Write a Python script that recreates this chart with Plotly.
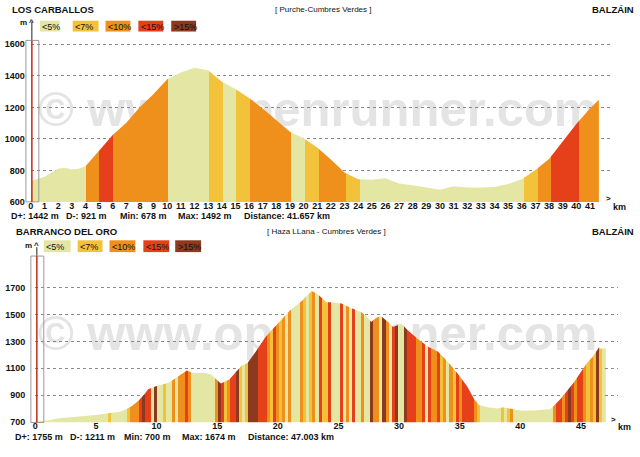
import plotly.graph_objects as go

# ---------------- data ----------------
GRADE_LABELS = ["<5%", "<7%", "<10%", "<15%", ">15%"]
GRADE_COLORS = ["#E4E6A3", "#F2C33A", "#F0901C", "#E6401B", "#8C3A1F"]

# Top profile: Los Carballos
top_title = "LOS CARBALLOS"
top_route = "[ Purche-Cumbres Verdes ]"
top_end = "BALZÁIN"
top_km = [0, 0.5, 1, 1.5, 2, 2.5, 3, 3.5, 4, 5, 6, 7, 8, 9, 10, 11, 12, 13, 14, 15,
          16, 17, 18, 19, 20, 21, 22, 23, 24, 25, 26, 27, 28, 29, 30, 31, 32, 33, 34,
          35, 36, 37, 38, 39, 40, 41, 41.657]
top_elev = [733, 745, 760, 785, 810, 817, 806, 810, 827, 925, 1025, 1102, 1202, 1285,
            1379, 1421, 1452, 1435, 1362, 1317, 1260, 1192, 1119, 1046, 1004, 946, 869,
            786, 744, 740, 750, 717, 706, 692, 677, 700, 692, 692, 694, 713, 744, 802,
            873, 983, 1094, 1192, 1248]
top_seg_km = list(range(0, 42)) + [41.657]
top_seg_grade = [0, 0, 0, 0, 2, 3, 2, 2, 2, 2, 0, 0, 0, 1, 0, 1, 2, 2, 2, 0, 1, 2, 2, 1,
                 0, 0, 0, 0, 0, 0, 0, 0, 0, 0, 0, 0, 1, 2, 3, 3, 2, 2]
top_xticks = list(range(0, 42))
top_yticks = [600, 800, 1000, 1200, 1400, 1600]
top_stats = ["D+: 1442 m", "D-: 921 m", "Min: 678 m", "Max: 1492 m", "Distance: 41.657 km"]

# Bottom profile: Barranco del Oro
bot_title = "BARRANCO DEL ORO"
bot_route = "[ Haza LLana - Cumbres Verdes ]"
bot_end = "BALZÁIN"
bot_km = [0, 1, 2, 3, 4, 5, 6, 7, 7.5, 8, 8.5, 9, 9.3, 10, 11, 12, 12.5, 13, 14, 14.5,
          15, 15.3, 16, 16.5, 17, 17.5, 18, 19, 20, 21, 22, 22.8, 23.3, 23.6, 24.0, 24.4,
          25.25, 26.1, 26.9, 27.4, 27.7, 28.1, 28.5, 29.1, 29.5, 30.2, 30.7, 31.5, 32.4,
          33.2, 34.0, 34.8, 35.6, 36.2, 36.6, 37.3, 38.1, 38.6, 39.2, 40.0, 41.1, 42.5,
          43.3, 44.4, 45.5, 46.0, 46.5, 46.6, 47.003]
bot_elev = [707, 712, 729, 737, 744, 754, 766, 778, 795, 822, 859, 907, 944, 968, 993,
            1054, 1083, 1066, 1066, 1054, 1017, 988, 1017, 1066, 1120, 1139, 1200, 1334,
            1432, 1529, 1602, 1674, 1651, 1627, 1590, 1590, 1581, 1546, 1517, 1480, 1444,
            1473, 1488, 1444, 1407, 1432, 1385, 1322, 1261, 1225, 1151, 1066, 968, 871,
            827, 810, 802, 810, 798, 786, 786, 798, 871, 993, 1139, 1188, 1256, 1245, 1249]
# grade class per quarter km, one string per km
bot_grade_rows = ["0000", "0000", "0000", "0000", "0000", "0000", "1000", "0012",
                  "2234", "3304", "0010", "0202", "2320", "0000", "0002", "4312",
                  "3341", "0144", "4333", "2132", "1202", "0002", "1012", "0311",
                  "3000", "3020", "3002", "0042", "2042", "0340", "0433", "3223",
                  "0322", "3120", "2132", "3333", "2100", "0000", "0101", "2000",
                  "0000", "0000", "0023", "3234", "3233", "2121", "4104"]
bot_total_km = 47.003
bot_xticks = [0, 5, 10, 15, 20, 25, 30, 35, 40, 45]
bot_yticks = [700, 900, 1100, 1300, 1500, 1700]
bot_stats = ["D+: 1755 m", "D-: 1211 m", "Min: 700 m", "Max: 1674 m", "Distance: 47.003 km"]

WATERMARK = "© www.openrunner.com"

# ---------------- helpers ----------------
W, H = 640, 457
FONT = "Liberation Sans, Arial, sans-serif"


def fx(x):
    return x / W


def fy(y):
    return 1 - y / H


def step_scale(edges, grades):
    span = edges[-1] - edges[0]
    scale = []
    for a, b, g in zip(edges[:-1], edges[1:], grades):
        c = GRADE_COLORS[g]
        scale.append([round((a - edges[0]) / span, 6), c])
        scale.append([round((b - edges[0]) / span, 6), c])
    scale[0][0] = 0.0
    scale[-1][0] = 1.0
    return scale


bot_seg_grade = [int(ch) for row in bot_grade_rows for ch in row]
bot_seg_km = [i * 0.25 for i in range(len(bot_seg_grade))] + [bot_total_km]

fig = go.Figure()

fig.add_trace(go.Scatter(
    x=top_km, y=top_elev, mode="lines", line=dict(width=0, color="rgba(0,0,0,0)"),
    fill="tozeroy",
    fillgradient=dict(type="horizontal", colorscale=step_scale(top_seg_km, top_seg_grade),
                      start=top_seg_km[0], stop=top_seg_km[-1]),
    xaxis="x", yaxis="y", hoverinfo="skip"))

fig.add_trace(go.Scatter(
    x=bot_km, y=bot_elev, mode="lines", line=dict(width=0, color="rgba(0,0,0,0)"),
    fill="tozeroy",
    fillgradient=dict(type="horizontal", colorscale=step_scale(bot_seg_km, bot_seg_grade),
                      start=bot_seg_km[0], stop=bot_seg_km[-1]),
    xaxis="x2", yaxis="y2", hoverinfo="skip"))

tickfont = dict(family=FONT, size=9, color="#111111", weight="bold")
grid = dict(showgrid=True, griddash="dot", gridcolor="#8a8a8a", gridwidth=1)

# top chart geometry: km0 at 28px, 13.70 px/km ; 600m at 203px, 0.16 px/m
top_x0, top_x1 = 28, 613
top_y0, top_y1 = 203, 40
top_xr = (top_x1 - top_x0) / 13.70
top_yr = 600 + (top_y0 - top_y1) / 0.16
# bottom chart geometry: km0 at 32.5px, 12.18 px/km ; 700m at 426.7px, 0.1367 px/m
bot_x0, bot_x1 = 32.5, 618
bot_y0, bot_y1 = 426.7, 287
bot_xr = (bot_x1 - bot_x0) / 12.18
bot_yr = 700 + (bot_y0 - bot_y1) / 0.1367

fig.update_layout(
    width=W, height=H, margin=dict(l=0, r=0, t=0, b=0),
    paper_bgcolor="white", plot_bgcolor="rgba(0,0,0,0)", showlegend=False,
    xaxis=dict(domain=[fx(top_x0), fx(top_x1)], range=[0, top_xr], anchor="y",
               tickmode="array", tickvals=top_xticks, ticks="", showgrid=False,
               zeroline=False, showline=False, tickfont=tickfont, ticklabelstandoff=-3),
    yaxis=dict(domain=[fy(top_y0), fy(top_y1)], range=[600, top_yr], anchor="x",
               tickmode="array", tickvals=top_yticks, ticks="", zeroline=False,
               showline=False, tickfont=tickfont, ticklabelstandoff=5, **grid),
    xaxis2=dict(domain=[fx(bot_x0), fx(bot_x1)], range=[0, bot_xr], anchor="y2",
                tickmode="array", tickvals=bot_xticks, ticks="", showgrid=False,
                zeroline=False, showline=False, tickfont=tickfont, ticklabelstandoff=-3),
    yaxis2=dict(domain=[fy(bot_y0), fy(bot_y1)], range=[700, bot_yr], anchor="x2",
                tickmode="array", tickvals=bot_yticks, ticks="", zeroline=False,
                showline=False, tickfont=tickfont, ticklabelstandoff=9, **grid),
)

shapes = []
annotations = []


def text(t, x, y, size=9, bold=False, anchor="left", color="#111111"):
    annotations.append(dict(
        text=t, x=fx(x), y=fy(y), xref="paper", yref="paper", showarrow=False,
        xanchor=anchor, yanchor="middle", borderpad=0,
        font=dict(family=FONT, size=size, color=color, weight="bold" if bold else "normal")))


# watermarks (drawn below the profiles)
for yc in (104, 331):
    shapes.append(dict(
        type="rect", xref="paper", yref="paper", x0=0, x1=fx(632),
        y0=fy(yc + 35), y1=fy(yc - 35), line=dict(width=0),
        fillcolor="rgba(0,0,0,0)", layer="below",
        label=dict(text=WATERMARK, textposition="middle center",
                   font=dict(family=FONT, size=49, color="#E4E4E4", weight="bold"))))

# titles
text(top_title, 8, 8, size=9.5, bold=True)
text(top_route, 322, 8, size=8, anchor="center")
text(top_end, 635, 8, size=9.5, bold=True, anchor="right")
text(bot_title, 12.5, 233, size=9.5, bold=True)
text(bot_route, 325, 233, size=8, anchor="center")
text(bot_end, 635, 233, size=9.5, bold=True, anchor="right")

# legends
top_boxes = [(37, 57), (70, 96), (103, 128), (136, 161), (169, 194)]
bot_boxes = [(41, 68), (75, 100), (107, 133), (141, 167), (173, 199)]
for boxes, (ya, yb) in ((top_boxes, (19, 30)), (bot_boxes, (242, 254))):
    for (xa, xb), lab, col in zip(boxes, GRADE_LABELS, GRADE_COLORS):
        shapes.append(dict(type="rect", xref="paper", yref="paper", x0=fx(xa), x1=fx(xb),
                           y0=fy(yb), y1=fy(ya), line=dict(width=0), fillcolor=col))
        text(lab, xa + 1.5, (ya + yb) / 2 + 0.5, size=9)

# axis arrow + cursor box
for (lx, ytop, ybox, ybot, bx0, bx1, my) in ((29, 20, 39, 203, 23, 36, 21),
                                             (34, 249, 258, 427, 28, 41, 247)):
    shapes.append(dict(type="line", xref="paper", yref="paper", x0=fx(lx), x1=fx(lx),
                       y0=fy(ybox), y1=fy(ytop), line=dict(color="#222222", width=1)))
    shapes.append(dict(type="rect", xref="paper", yref="paper", x0=fx(bx0), x1=fx(bx1),
                       y0=fy(ybot), y1=fy(ybox), line=dict(color="#9a9a9a", width=1),
                       fillcolor="rgba(0,0,0,0)"))
    shapes.append(dict(type="line", xref="paper", yref="paper", x0=fx(lx), x1=fx(lx),
                       y0=fy(ybot), y1=fy(ybox), line=dict(color="#C42A18", width=1.5)))
    text("m", lx - 8, my, size=8, bold=True, anchor="center")
    text("^", lx, my, size=8, bold=True, anchor="center")

# km labels at x-axis ends
text(">", 608, 200, size=8, bold=True, anchor="center")
text("km", 619, 208, size=9, bold=True, anchor="center")
text(">", 613, 424, size=8, bold=True, anchor="center")
text("km", 624, 432, size=9, bold=True, anchor="center")

# stats lines
for s, x in zip(top_stats, (7, 62, 117, 175, 241)):
    text(s, x, 217.5, size=9, bold=True)
for s, x in zip(bot_stats, (11.5, 66, 121, 179, 245)):
    text(s, x, 441.5, size=9, bold=True)

fig.update_layout(shapes=shapes, annotations=annotations)
fig.write_html("out.html")
